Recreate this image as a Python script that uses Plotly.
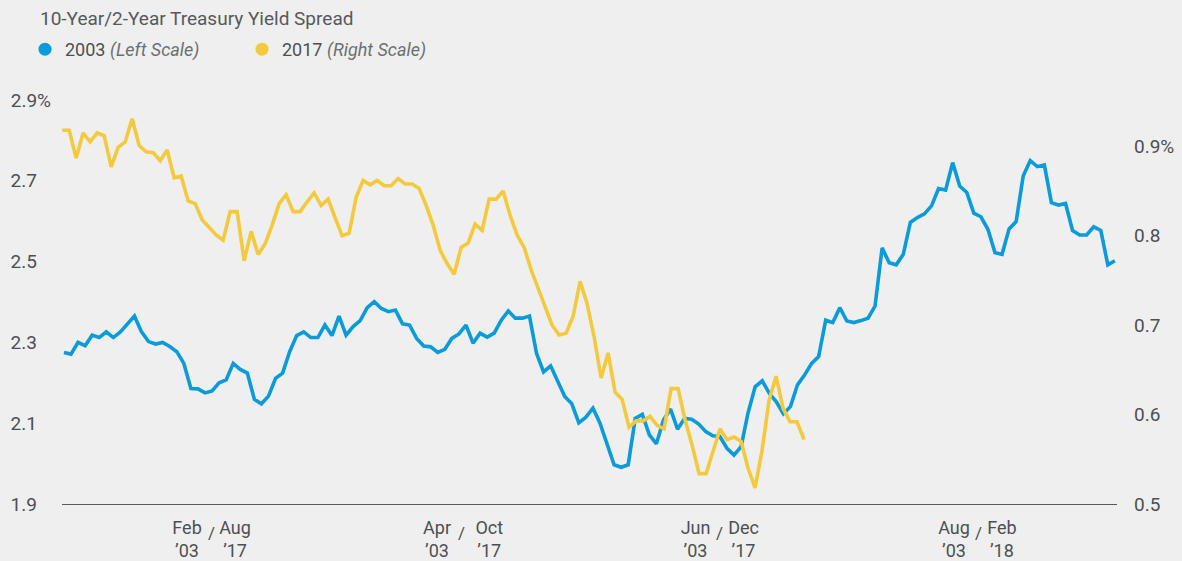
import plotly.graph_objects as go
import pandas as pd

chart_title = "10-Year/2-Year Treasury Yield Spread"
series_names = ["2003 <span style='color:#6b6f74'><i>(Left Scale)</i></span>",
                "2017 <span style='color:#6b6f74'><i>(Right Scale)</i></span>"]

# 10-Year minus 2-Year Treasury spread, 2003 (left scale, %)
spread_2003 = [
    2.275, 2.271, 2.300, 2.292, 2.318, 2.312, 2.326, 2.312, 2.326, 2.346,
    2.365, 2.326, 2.302, 2.296, 2.300, 2.290, 2.277, 2.248, 2.186, 2.185,
    2.175, 2.180, 2.200, 2.207, 2.248, 2.233, 2.224, 2.159, 2.148, 2.167,
    2.211, 2.224, 2.277, 2.317, 2.326, 2.312, 2.312, 2.343, 2.317, 2.365,
    2.318, 2.339, 2.354, 2.386, 2.401, 2.384, 2.376, 2.380, 2.346, 2.343,
    2.310, 2.291, 2.289, 2.275, 2.283, 2.310, 2.321, 2.343, 2.298, 2.323,
    2.313, 2.323, 2.355, 2.378, 2.360, 2.360, 2.365, 2.273, 2.227, 2.242,
    2.203, 2.166, 2.148, 2.101, 2.115, 2.137, 2.100, 2.050, 1.997, 1.991,
    1.997, 2.112, 2.122, 2.071, 2.049, 2.108, 2.135, 2.085, 2.112, 2.110,
    2.098, 2.079, 2.069, 2.067, 2.038, 2.021, 2.042, 2.126, 2.190, 2.205,
    2.174, 2.153, 2.123, 2.141, 2.195, 2.219, 2.248, 2.265, 2.355, 2.349,
    2.386, 2.353, 2.349, 2.354, 2.360, 2.390, 2.534, 2.497, 2.492, 2.518,
    2.597, 2.609, 2.618, 2.638, 2.681, 2.677, 2.745, 2.687, 2.671, 2.620,
    2.611, 2.580, 2.522, 2.518, 2.581, 2.599, 2.712, 2.750, 2.735, 2.739,
    2.646, 2.640, 2.644, 2.577, 2.566, 2.566, 2.586, 2.577, 2.492, 2.502,
]

# 10-Year minus 2-Year Treasury spread, 2017 (right scale, %)
spread_2017 = [
    0.918, 0.918, 0.887, 0.915, 0.905, 0.915, 0.912, 0.877, 0.899, 0.905,
    0.931, 0.901, 0.894, 0.893, 0.884, 0.896, 0.865, 0.867, 0.839, 0.836,
    0.818, 0.810, 0.801, 0.795, 0.827, 0.827, 0.772, 0.805, 0.779, 0.791,
    0.812, 0.836, 0.846, 0.827, 0.827, 0.838, 0.848, 0.834, 0.841, 0.820,
    0.800, 0.803, 0.843, 0.862, 0.857, 0.862, 0.856, 0.856, 0.864, 0.858,
    0.858, 0.853, 0.834, 0.812, 0.784, 0.769, 0.757, 0.787, 0.792, 0.813,
    0.806, 0.841, 0.841, 0.850, 0.823, 0.801, 0.787, 0.762, 0.741, 0.719,
    0.700, 0.689, 0.691, 0.710, 0.749, 0.724, 0.687, 0.641, 0.669, 0.625,
    0.617, 0.586, 0.593, 0.593, 0.598, 0.588, 0.584, 0.629, 0.629, 0.594,
    0.566, 0.534, 0.534, 0.559, 0.584, 0.572, 0.575, 0.570, 0.540, 0.518,
    0.560, 0.616, 0.643, 0.607, 0.592, 0.592, 0.572,
]

dates_2003 = pd.date_range("2002-12-29", "2003-09-03", periods=len(spread_2003))
dates_2017 = pd.date_range("2017-06-27", "2017-12-22", periods=len(spread_2017))

ticks_2003 = ["2003-02-01", "2003-04-01", "2003-06-01", "2003-08-01"]
ticklabels_2003 = ["Feb<br>’03", "Apr<br>’03", "Jun<br>’03", "Aug<br>’03"]
ticks_2017 = ["2017-08-01", "2017-10-01", "2017-12-01", "2018-02-01"]
ticklabels_2017 = ["Aug<br>’17", "Oct<br>’17", "Dec<br>’17", "Feb<br>’18"]

left_ticks = [1.9, 2.1, 2.3, 2.5, 2.7, 2.9]
right_ticks = [0.5, 0.6, 0.7, 0.8, 0.9]

BLUE = "#0a9bdc"
YELLOW = "#f4c93e"
TEXT = "#4b4f55"
BG = "#efefef"
FONT = "Roboto"

nb = "\u00a0"
left_text = [f"{v:.1f}" + (nb * 3 if v != left_ticks[-1] else "%") for v in left_ticks]
right_text = [f"{v:.1f}" + ("%" if v == right_ticks[-1] else "") for v in right_ticks]

fig = go.Figure()
fig.add_trace(go.Scatter(x=dates_2003, y=spread_2003, mode="lines",
                         line=dict(color=BLUE, width=3.6), showlegend=False,
                         xaxis="x", yaxis="y"))
fig.add_trace(go.Scatter(x=dates_2017, y=spread_2017, mode="lines",
                         line=dict(color=YELLOW, width=3.6), showlegend=False,
                         xaxis="x2", yaxis="y2"))
# legend entries (dots)
fig.add_trace(go.Scatter(x=[None], y=[None], mode="markers", name=series_names[0],
                         marker=dict(color=BLUE, size=13), xaxis="x", yaxis="y"))
fig.add_trace(go.Scatter(x=[None], y=[None], mode="markers", name=series_names[1],
                         marker=dict(color=YELLOW, size=13), xaxis="x2", yaxis="y2"))

# slash separators between the paired month labels
for t in ticks_2003:
    fig.add_annotation(x=t, xref="x", y=-0.07, yref="paper", text="/",
                       showarrow=False, xshift=3, yanchor="middle",
                       font=dict(family=FONT, size=17, color=TEXT))

xcommon = dict(type="date", showgrid=False, zeroline=False, showline=True,
               linecolor="#55595e", linewidth=1, ticks="", ticklabelstandoff=7,
               automargin=False, tickfont=dict(size=18, color=TEXT))
ycommon = dict(showgrid=False, zeroline=False, showline=False, ticks="",
               automargin=False, tickfont=dict(size=19, color=TEXT))

fig.update_layout(
    width=1182, height=561,
    paper_bgcolor=BG, plot_bgcolor=BG,
    margin=dict(l=62, r=65, t=90, b=57, autoexpand=False),
    font=dict(family=FONT, color=TEXT, size=19),
    title=dict(text=chart_title, x=40 / 1182, xanchor="left", xref="container",
               y=1 - 18 / 561, yanchor="middle", yref="container",
               font=dict(family=FONT, size=19, color="#55595e")),
    legend=dict(orientation="h", xref="container", yref="container",
                x=25 / 1182, xanchor="left", y=1 - 31 / 561, yanchor="top",
                font=dict(family=FONT, size=18, color=TEXT),
                bgcolor="rgba(0,0,0,0)", entrywidth=172, entrywidthmode="pixels"),
    xaxis=dict(range=["2002-12-28 13:00", "2003-09-03 12:00"],
               tickvals=ticks_2003, ticktext=ticklabels_2003, ticklabelshift=-21,
               **xcommon),
    xaxis2=dict(range=["2017-06-26 23:00", "2018-03-07 02:00"],
                overlaying="x", side="bottom", anchor="y",
                tickvals=ticks_2017, ticktext=ticklabels_2017, ticklabelshift=27,
                **xcommon),
    yaxis=dict(range=[1.9, 1.9 + 414 / 404], tickvals=left_ticks, ticktext=left_text,
               ticklabelstandoff=10, **ycommon),
    yaxis2=dict(range=[0.5, 0.5 + 414 / 894], tickvals=right_ticks, ticktext=right_text,
                overlaying="y", side="right", anchor="x",
                ticklabelstandoff=16, **ycommon),
)

fig.write_html(
    "out.html",
    config={"displayModeBar": False},
    post_script="document.body.style.margin='0';document.body.style.background='%s';" % BG,
)
